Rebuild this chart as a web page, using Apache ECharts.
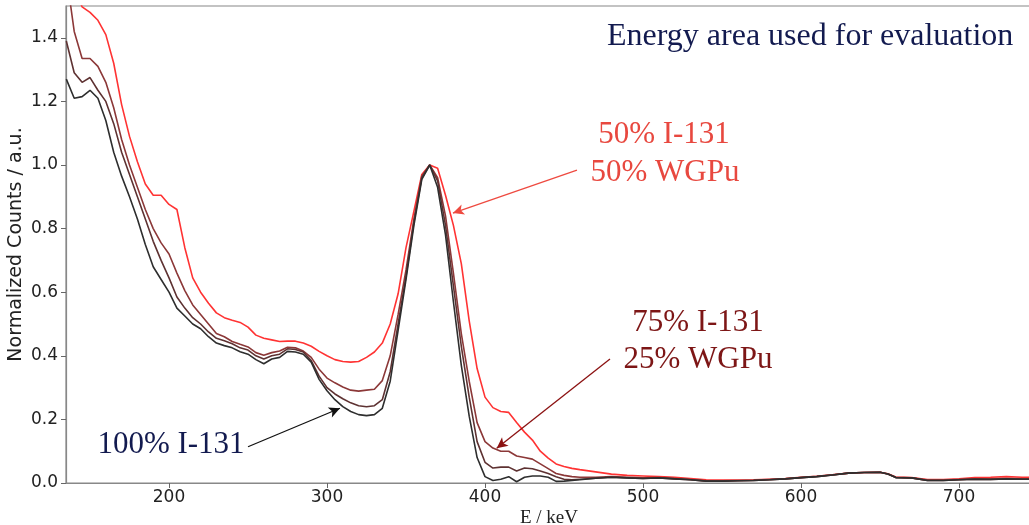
<!DOCTYPE html>
<html>
<head>
<meta charset="utf-8">
<script src="https://cdn.jsdelivr.net/npm/echarts@6/dist/echarts.min.js"></script>
<style>
    html, body { margin: 0; padding: 0; background: #fff; }
    #chart { width: 1029px; height: 525px; }
</style>
</head>
<body>
<div id="chart"></div>
<script>
// Energy grid (keV)
const energies = [
    135, 140, 145, 150, 155, 160, 165, 170, 175, 180, 185, 190, 195, 200, 205, 210, 215, 220, 225, 230,
    235, 240, 245, 250, 255, 260, 265, 270, 275, 280, 285, 290, 295, 300, 305, 310, 315, 320, 325, 330,
    335, 340, 345, 350, 355, 360, 365, 370, 375, 380, 385, 390, 395, 400, 405, 410, 415, 420, 425, 430,
    435, 440, 445, 450, 455, 460, 470, 480, 490, 500, 510, 520, 530, 540, 550, 560, 570, 580, 590, 600,
    610, 620, 630, 640, 650, 655, 660, 670, 680, 690, 700, 710, 720, 730, 740, 745
];

// 100% I-131
const pureI131 = [
    1.27, 1.21, 1.215, 1.235, 1.21, 1.14, 1.04, 0.965, 0.90, 0.83, 0.75, 0.68, 0.64, 0.60, 0.55, 0.525, 0.50, 0.485, 0.46, 0.44,
    0.432, 0.425, 0.413, 0.405, 0.388, 0.375, 0.39, 0.395, 0.414, 0.412, 0.405, 0.38, 0.326, 0.29, 0.262, 0.24, 0.225, 0.215, 0.212, 0.215,
    0.235, 0.32, 0.48, 0.64, 0.81, 0.955, 1.0, 0.93, 0.78, 0.57, 0.37, 0.21, 0.08, 0.02, 0.008, 0.012, 0.02, 0.004, 0.018, 0.022,
    0.022, 0.018, 0.005, 0.006, 0.008, 0.01, 0.015, 0.018, 0.016, 0.014, 0.016, 0.013, 0.01, 0.006, 0.006, 0.007, 0.008, 0.01, 0.013, 0.017,
    0.02, 0.025, 0.031, 0.033, 0.034, 0.028, 0.017, 0.016, 0.008, 0.008, 0.01, 0.012, 0.011, 0.013, 0.012, 0.012
];

// intermediate mixture (between 100% and 75%)
const mixHigh = [
    1.39, 1.29, 1.26, 1.275, 1.235, 1.20, 1.13, 1.04, 0.97, 0.90, 0.83, 0.76, 0.70, 0.645, 0.585, 0.55, 0.52, 0.50, 0.475, 0.455,
    0.447, 0.438, 0.425, 0.418, 0.40, 0.39, 0.40, 0.405, 0.422, 0.42, 0.412, 0.385, 0.336, 0.30, 0.28, 0.265, 0.252, 0.243, 0.24, 0.243,
    0.262, 0.35, 0.50, 0.65, 0.82, 0.96, 1.0, 0.95, 0.81, 0.62, 0.43, 0.27, 0.13, 0.065, 0.047, 0.05, 0.05, 0.038, 0.047, 0.045,
    0.038, 0.03, 0.02, 0.012, 0.01, 0.012, 0.015, 0.018, 0.016, 0.014, 0.016, 0.013, 0.01, 0.006, 0.006, 0.007, 0.008, 0.01, 0.013, 0.017,
    0.02, 0.025, 0.031, 0.033, 0.034, 0.028, 0.017, 0.016, 0.008, 0.008, 0.01, 0.012, 0.011, 0.013, 0.012, 0.012
];

// 75% I-131 / 25% WGPu
const mix75 = [
    1.60, 1.42, 1.335, 1.335, 1.31, 1.26, 1.18, 1.08, 1.0, 0.93, 0.86, 0.80, 0.755, 0.72, 0.66, 0.605, 0.56, 0.53, 0.50, 0.47,
    0.46, 0.445, 0.436, 0.428, 0.41, 0.402, 0.41, 0.415, 0.427, 0.425, 0.415, 0.395, 0.358, 0.33, 0.315, 0.302, 0.292, 0.289, 0.292, 0.295,
    0.322, 0.40, 0.53, 0.67, 0.83, 0.965, 1.0, 0.96, 0.84, 0.66, 0.47, 0.32, 0.19, 0.13, 0.11, 0.10, 0.10, 0.085, 0.08, 0.075,
    0.06, 0.045, 0.03, 0.024, 0.02, 0.018, 0.018, 0.02, 0.018, 0.016, 0.017, 0.014, 0.011, 0.007, 0.007, 0.008, 0.009, 0.011, 0.013, 0.017,
    0.021, 0.026, 0.031, 0.033, 0.034, 0.028, 0.018, 0.016, 0.009, 0.009, 0.011, 0.013, 0.013, 0.014, 0.013, 0.013
];

// 50% I-131 / 50% WGPu
const mix50 = [
    1.75, 1.56, 1.497, 1.48, 1.455, 1.41, 1.32, 1.19, 1.09, 1.01, 0.94, 0.905, 0.905, 0.876, 0.86, 0.74, 0.645, 0.60, 0.565, 0.535,
    0.52, 0.512, 0.505, 0.49, 0.465, 0.455, 0.45, 0.445, 0.446, 0.446, 0.44, 0.43, 0.414, 0.40, 0.388, 0.382, 0.38, 0.382, 0.395, 0.412,
    0.44, 0.50, 0.595, 0.74, 0.855, 0.97, 1.0, 0.99, 0.905, 0.81, 0.69, 0.51, 0.36, 0.27, 0.237, 0.225, 0.222, 0.19, 0.16, 0.135,
    0.10, 0.078, 0.06, 0.052, 0.046, 0.042, 0.035, 0.028, 0.024, 0.022, 0.02, 0.018, 0.014, 0.01, 0.009, 0.009, 0.01, 0.012, 0.014, 0.018,
    0.021, 0.026, 0.031, 0.033, 0.034, 0.029, 0.019, 0.017, 0.011, 0.011, 0.013, 0.017, 0.018, 0.02, 0.018, 0.018
];

// Axis ticks
const xTicks = [200, 300, 400, 500, 600, 700];
const yTicks = [0, 0.2, 0.4, 0.6, 0.8, 1.0, 1.2, 1.4];

// Annotation arrows, in data coordinates [from, to]
const arrow50 = [[458.2, 0.984], [379.7, 0.849]];
const arrow75 = [[479.1, 0.390], [407.4, 0.109]];
const arrow100 = [[250.0, 0.114], [308.2, 0.235]];

const serif = '"Liberation Serif", "DejaVu Serif", serif';
const sans = '"DejaVu Sans", sans-serif';

// Pairs energies with a series of values
const pairs = (values) => energies.map((e, i) => [e, values[i]]);

// Arrow mark line attached to a series
const arrowLine = (points, color) => ({
    silent: true,
    symbol: ['none', 'arrow'],
    symbolSize: [8, 11],
    label: {show: false},
    emphasis: {disabled: true},
    lineStyle: {color: color, width: 1.3, type: 'solid'},
    data: [[{coord: points[0]}, {coord: points[1]}]]
});

// Creates a line series
const lineSeries = (name, values, color, arrow) => {
    const series = {
        name: name,
        type: 'line',
        data: pairs(values),
        showSymbol: false,
        symbol: 'none',
        silent: true,
        clip: true,
        lineStyle: {color: color, width: 1.6},
        itemStyle: {color: color},
        emphasis: {disabled: true}
    };
    if (arrow) {
        series.markLine = arrowLine(arrow.points, arrow.color);
    }
    return series;
};

const chart = echarts.init(document.getElementById('chart'));

const option = {
    animation: false,
    backgroundColor: '#fff',
    grid: {
        left: 66, top: 6, right: -3, bottom: 42,
        outerBoundsMode: 'none',
        containLabel: false,
        show: true, borderColor: '#888', borderWidth: 1.2
    },
    xAxis: {
        type: 'value',
        min: 134.8,
        max: 746.2,
        name: 'E / keV',
        nameLocation: 'middle',
        nameGap: 26,
        nameMoveOverlap: false,
        nameTextStyle: {fontFamily: serif, fontSize: 19, color: '#222'},
        axisLine: {show: true, lineStyle: {color: '#888', width: 1.2}},
        axisTick: {show: true, length: 5, customValues: xTicks, lineStyle: {color: '#666'}},
        axisLabel: {
            customValues: xTicks, margin: 6,
            fontFamily: sans, fontSize: 17, color: '#222'
        },
        splitLine: {show: false}
    },
    yAxis: {
        type: 'value',
        min: 0,
        max: 1.5,
        name: 'Normalized Counts / a.u.',
        nameLocation: 'middle',
        nameGap: 40,
        nameMoveOverlap: false,
        nameTextStyle: {fontFamily: sans, fontSize: 19, color: '#222'},
        axisLine: {show: true, lineStyle: {color: '#888', width: 1.2}},
        axisTick: {show: true, length: 5, customValues: yTicks, lineStyle: {color: '#666'}},
        axisLabel: {
            customValues: yTicks, margin: 8,
            fontFamily: sans, fontSize: 17, color: '#222',
            formatter: (v) => v.toFixed(1)
        },
        splitLine: {show: false}
    },
    series: [
        lineSeries('50% I-131 / 50% WGPu', mix50, '#ff3333', {points: arrow50, color: '#ee4a40'}),
        lineSeries('75% I-131 / 25% WGPu', mix75, '#8c3838', {points: arrow75, color: '#8b1111'}),
        lineSeries('mixture', mixHigh, '#5e3232', null),
        lineSeries('100% I-131', pureI131, '#2e2e2e', {points: arrow100, color: '#111'})
    ],
    graphic: [
        {type: 'text', left: 607, top: 21, style: {text: 'Energy area used for evaluation', font: '32px ' + serif, fill: '#121a4f'}},
        {type: 'text', x: 664, y: 135, style: {text: '50% I-131', font: '31px ' + serif, fill: '#e8483f', align: 'center', verticalAlign: 'middle'}},
        {type: 'text', x: 665, y: 173, style: {text: '50% WGPu', font: '31px ' + serif, fill: '#e8483f', align: 'center', verticalAlign: 'middle'}},
        {type: 'text', x: 698, y: 323, style: {text: '75% I-131', font: '31px ' + serif, fill: '#7d1616', align: 'center', verticalAlign: 'middle'}},
        {type: 'text', x: 698, y: 360, style: {text: '25% WGPu', font: '31px ' + serif, fill: '#7d1616', align: 'center', verticalAlign: 'middle'}},
        {type: 'text', x: 171, y: 445, style: {text: '100% I-131', font: '31px ' + serif, fill: '#121a4f', align: 'center', verticalAlign: 'middle'}}
    ]
};

chart.setOption(option);
</script>
</body>
</html>
